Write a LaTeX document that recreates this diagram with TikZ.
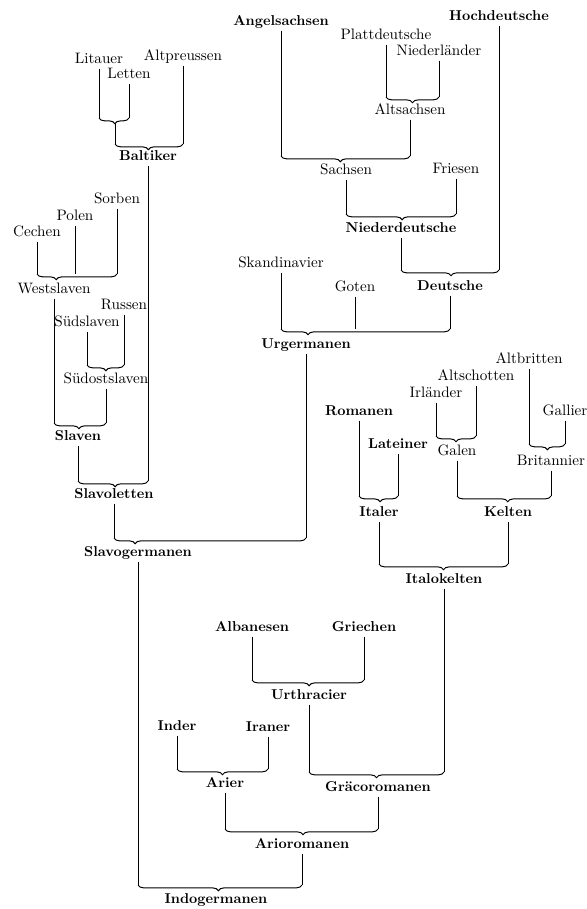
\documentclass[tikz,border=0pt]{standalone}
\usepackage{tikz}
\usetikzlibrary{decorations.pathreplacing}

\begin{document}
\begin{tikzpicture}[
    x=0.7pt, y=-0.7pt,
    lab/.style={inner sep=2pt, text height=1.5ex, text depth=.25ex, font=\fontsize{10.6}{12}\selectfont},
    head/.style={lab, font=\bfseries},
    stem/.style={line width=0.5pt},
    fork/.style={line width=0.7pt, decorate, decoration={brace, mirror, amplitude=4pt, aspect=#1}},
    fork/.default=0.5
]
    \useasboundingbox (0,0) rectangle (587,909);

    % Germanen
    \node[head] (angels) at (281,22) {Angelsachsen};
    \node[head] (hochd) at (499,17) {Hochdeutsche};
    \node[lab] (platt) at (386,36) {Plattdeutsche};
    \node[lab] (niederl) at (439,52) {Niederländer};
    \node[lab] (altsachs) at (410,111) {Altsachsen};
    \node[lab] (sachsen) at (346,171) {Sachsen};
    \node[lab] (friesen) at (456,170) {Friesen};
    \node[head] (niederd) at (401,229) {Niederdeutsche};
    \node[lab] (skand) at (281,264) {Skandinavier};
    \node[lab] (goten) at (355,288) {Goten};
    \node[head] (deutsche) at (450,287) {Deutsche};
    \node[head] (urgerm) at (306,345) {Urgermanen};

    \coordinate (y-altsachs) at (0,97);
    \coordinate (y-sachsen) at (0,156);
    \coordinate (y-niederd) at (0,214);
    \coordinate (y-deutsche) at (0,270);
    \coordinate (y-urgerm) at (0,329);

    \draw[stem] (platt) -- (platt |- y-altsachs);
    \draw[stem] (niederl) -- (niederl |- y-altsachs);
    \draw[fork] (platt |- y-altsachs) -- (niederl |- y-altsachs);
    \draw[stem] (angels) -- (angels |- y-sachsen);
    \draw[stem] (altsachs) -- (altsachs |- y-sachsen);
    \draw[fork=.46] (angels |- y-sachsen) -- (altsachs |- y-sachsen);
    \draw[stem] (sachsen) -- (sachsen |- y-niederd);
    \draw[stem] (friesen) -- (friesen |- y-niederd);
    \draw[fork=.51] (sachsen |- y-niederd) -- (friesen |- y-niederd);
    \draw[stem] (niederd) -- (niederd |- y-deutsche);
    \draw[stem] (hochd) -- (hochd |- y-deutsche);
    \draw[fork=.51] (niederd |- y-deutsche) -- (hochd |- y-deutsche);
    \draw[stem] (skand) -- (skand |- y-urgerm);
    \draw[stem] (goten) -- (goten |- y-urgerm);
    \draw[stem] (deutsche) -- (deutsche |- y-urgerm);
    \draw[fork=.16] (skand |- y-urgerm) -- (deutsche |- y-urgerm);

    % Baltiker
    \node[lab] (litauer) at (99,60) {Litauer};
    \node[lab] (letten) at (129,75) {Letten};
    \node[lab] (altpr) at (183,57) {Altpreussen};
    \node[head] (baltiker) at (148,157) {Baltiker};

    \coordinate (y-ll) at (0,118);
    \coordinate (ll) at (115,124);
    \coordinate (y-baltiker) at (0,144);

    \draw[stem] (litauer) -- (litauer |- y-ll);
    \draw[stem] (letten) -- (letten |- y-ll);
    \draw[fork=.53] (litauer |- y-ll) -- (letten |- y-ll);
    \draw[stem] (ll) -- (ll |- y-baltiker);
    \draw[stem] (altpr) -- (altpr |- y-baltiker);
    \draw[fork=.49] (ll |- y-baltiker) -- (altpr |- y-baltiker);

    % Slaven
    \node[lab] (cechen) at (37,233) {Cechen};
    \node[lab] (polen) at (75,217) {Polen};
    \node[lab] (sorben) at (117,200) {Sorben};
    \node[lab] (westsl) at (54,290) {Westslaven};
    \node[lab] (russen) at (124,306) {Russen};
    \node[lab] (suedsl) at (87,323) {Südslaven};
    \node[lab] (suedost) at (106,380) {Südostslaven};
    \node[head] (slaven) at (78,437) {Slaven};
    \node[head] (slavol) at (114,495) {Slavoletten};
    \node[head] (slavog) at (138,553) {Slavogermanen};

    \coordinate (y-westsl) at (0,274);
    \coordinate (y-suedost) at (0,365);
    \coordinate (y-slaven) at (0,423);
    \coordinate (y-slavol) at (0,481);
    \coordinate (y-slavog) at (0,538);

    \draw[stem] (cechen) -- (cechen |- y-westsl);
    \draw[stem] (polen) -- (polen |- y-westsl);
    \draw[stem] (sorben) -- (sorben |- y-westsl);
    \draw[fork=.24] (cechen |- y-westsl) -- (sorben |- y-westsl);
    \draw[stem] (suedsl) -- (suedsl |- y-suedost);
    \draw[stem] (russen) -- (russen |- y-suedost);
    \draw[fork=.51] (suedsl |- y-suedost) -- (russen |- y-suedost);
    \draw[stem] (westsl) -- (westsl |- y-slaven);
    \draw[stem] (suedost) -- (suedost |- y-slaven);
    \draw[fork=.48] (westsl |- y-slaven) -- (suedost |- y-slaven);
    \draw[stem] (slaven) -- (slaven |- y-slavol);
    \draw[stem] (baltiker) -- (baltiker |- y-slavol);
    \draw[fork=.53] (slaven |- y-slavol) -- (baltiker |- y-slavol);
    \draw[stem] (slavol) -- (slavol |- y-slavog);
    \draw[stem] (urgerm) -- (urgerm |- y-slavog);
    \draw[fork=.11] (slavol |- y-slavog) -- (urgerm |- y-slavog);

    % Italer und Kelten
    \node[head] (romanen) at (359,412) {Romanen};
    \node[head] (lateiner) at (398,445) {Lateiner};
    \node[head] (italer) at (379,513) {Italer};
    \node[lab] (irl) at (436,394) {Irländer};
    \node[lab] (altsch) at (476,377) {Altschotten};
    \node[lab] (galen) at (457,452) {Galen};
    \node[lab] (altbr) at (529,360) {Altbritten};
    \node[lab] (gallier) at (565,412) {Gallier};
    \node[lab] (brit) at (551,462) {Britannier};
    \node[head] (kelten) at (508,513) {Kelten};
    \node[head] (italok) at (444,580) {Italokelten};

    \coordinate (y-galen) at (0,436);
    \coordinate (y-brit) at (0,444);
    \coordinate (y-italer) at (0,496);
    \coordinate (y-italok) at (0,564);

    \draw[stem] (irl) -- (irl |- y-galen);
    \draw[stem] (altsch) -- (altsch |- y-galen);
    \draw[fork] (irl |- y-galen) -- (altsch |- y-galen);
    \draw[stem] (altbr) -- (altbr |- y-brit);
    \draw[stem] (gallier) -- (gallier |- y-brit);
    \draw[fork=.51] (altbr |- y-brit) -- (gallier |- y-brit);
    \draw[stem] (romanen) -- (romanen |- y-italer);
    \draw[stem] (lateiner) -- (lateiner |- y-italer);
    \draw[fork=.54] (romanen |- y-italer) -- (lateiner |- y-italer);
    \draw[stem] (galen) -- (galen |- y-italer);
    \draw[stem] (brit) -- (brit |- y-italer);
    \draw[fork=.54] (galen |- y-italer) -- (brit |- y-italer);
    \draw[stem] (italer) -- (italer |- y-italok);
    \draw[stem] (kelten) -- (kelten |- y-italok);
    \draw[fork] (italer |- y-italok) -- (kelten |- y-italok);

    % Thracier und Arier
    \node[head] (alban) at (252,628) {Albanesen};
    \node[head] (griech) at (364,628) {Griechen};
    \node[head] (urthr) at (309,696) {Urthracier};
    \node[head] (inder) at (177,727) {Inder};
    \node[head] (iraner) at (268,728) {Iraner};
    \node[head] (arier) at (225,784) {Arier};
    \node[head] (graeco) at (378,788) {Gräcoromanen};
    \node[head] (arioro) at (302,845) {Arioromanen};
    \node[head] (indog) at (216,900) {Indogermanen};

    \coordinate (y-urthr) at (0,680);
    \coordinate (y-arier) at (0,769);
    \coordinate (y-graeco) at (0,772);
    \coordinate (y-arioro) at (0,829);
    \coordinate (y-indog) at (0,885);

    \draw[stem] (alban) -- (alban |- y-urthr);
    \draw[stem] (griech) -- (griech |- y-urthr);
    \draw[fork=.51] (alban |- y-urthr) -- (griech |- y-urthr);
    \draw[stem] (urthr) -- (urthr |- y-graeco);
    \draw[stem] (italok) -- (italok |- y-graeco);
    \draw[fork] (urthr |- y-graeco) -- (italok |- y-graeco);
    \draw[stem] (inder) -- (inder |- y-arier);
    \draw[stem] (iraner) -- (iraner |- y-arier);
    \draw[fork] (inder |- y-arier) -- (iraner |- y-arier);
    \draw[stem] (arier) -- (arier |- y-arioro);
    \draw[stem] (graeco) -- (graeco |- y-arioro);
    \draw[fork=.51] (arier |- y-arioro) -- (graeco |- y-arioro);
    \draw[stem] (slavog) -- (slavog |- y-indog);
    \draw[stem] (arioro) -- (arioro |- y-indog);
    \draw[fork=.49] (slavog |- y-indog) -- (arioro |- y-indog);

\end{tikzpicture}
\end{document}
